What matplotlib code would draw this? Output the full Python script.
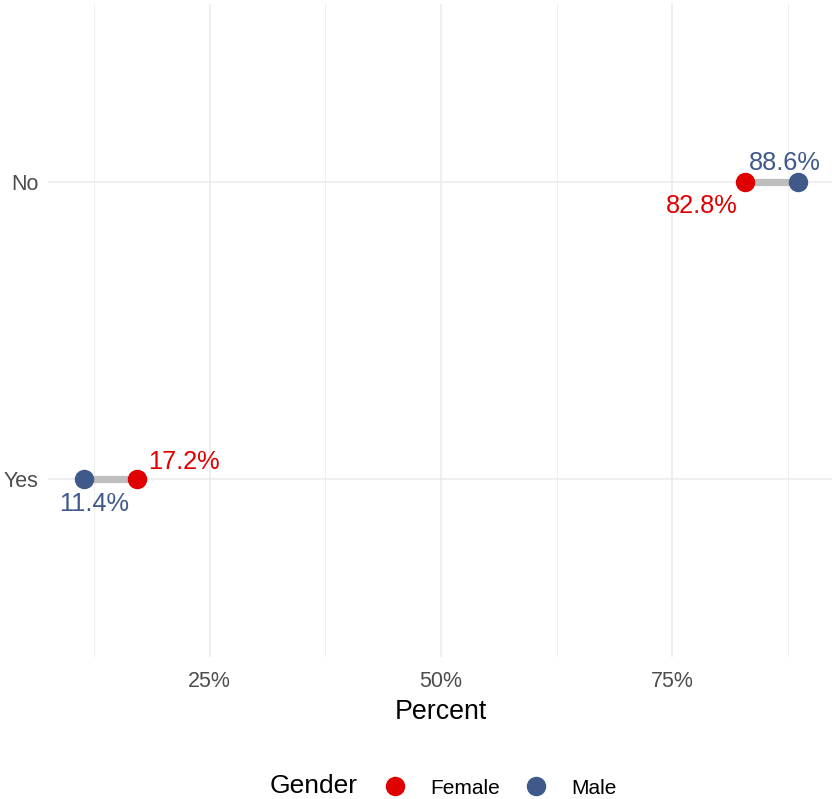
import matplotlib
matplotlib.use("Agg")
import matplotlib.pyplot as plt
from matplotlib.lines import Line2D
from matplotlib.ticker import FixedLocator, PercentFormatter

plt.rcParams['font.family'] = ['Liberation Sans', 'DejaVu Sans']

categories = ["Yes", "No"]
female = [17.2, 82.8]
male = [11.4, 88.6]
x_ticks = [25, 50, 75]
x_minor = [12.5, 37.5, 62.5, 87.5]

RED = "#E00000"
BLUE = "#3F5A8A"
SEG = "#BEBEBE"
PX = 72 / 100  # px -> pt

fig = plt.figure(figsize=(8.32, 7.99), dpi=100)
ax = fig.add_axes([48 / 832, 1 - 657 / 799, 786 / 832, (657 - 4) / 799])

ypos = list(range(len(categories)))
for y, f, m in zip(ypos, female, male):
    ax.plot([f, m], [y, y], color=SEG, lw=5.2, solid_capstyle='butt', zorder=2)
ax.plot(female, ypos, 'o', color=RED, ms=13, zorder=3, label="Female")
ax.plot(male, ypos, 'o', color=BLUE, ms=13, zorder=3, label="Male")

# labels: offsets in px (dx right, dy up)
offs_f = {0: (47, 17), 1: (-43, -24)}
offs_m = {0: (10, -25), 1: (-13, 19)}
for y, f, m in zip(ypos, female, male):
    dx, dy = offs_f[y]
    ax.annotate(f"{f:.1f}%", (f, y), xytext=(dx * PX, dy * PX), textcoords='offset points',
                ha='center', va='center', color=RED, fontsize=18.3)
    dx, dy = offs_m[y]
    ax.annotate(f"{m:.1f}%", (m, y), xytext=(dx * PX, dy * PX), textcoords='offset points',
                ha='center', va='center', color=BLUE, fontsize=18.3)

lo, hi = min(male + female), max(male + female)
pad = (hi - lo) * 0.05
ax.set_xlim(lo - pad, hi + pad)
ax.set_ylim(-0.6, len(categories) - 0.4)
ax.xaxis.set_major_locator(FixedLocator(x_ticks))
ax.xaxis.set_minor_locator(FixedLocator(x_minor))
ax.xaxis.set_major_formatter(PercentFormatter(decimals=0))
ax.set_yticks(ypos)
ax.set_yticklabels(categories)

ax.grid(which='major', color='#EBEBEB', lw=1.1)
ax.grid(which='minor', axis='x', color='#EBEBEB', lw=0.6)
ax.set_axisbelow(True)
for s in ax.spines.values():
    s.set_visible(False)
ax.tick_params(which='both', length=0, labelsize=15.5, labelcolor='#4D4D4D')
ax.tick_params(axis='x', pad=10)
ax.tick_params(axis='y', pad=7)
ax.set_xlabel("Percent", fontsize=19.3, color='black', labelpad=5)

fig.text(270 / 832, 1 - 786 / 799, "Gender", fontsize=19, va='center', ha='left')
handles = [Line2D([], [], ls='none', marker='o', color=RED, ms=13),
           Line2D([], [], ls='none', marker='o', color=BLUE, ms=13)]
fig.legend(handles, ["Female", "Male"], loc='center left',
           bbox_to_anchor=(385 / 832, 1 - 788 / 799), ncol=2, frameon=False,
           fontsize=15, handlelength=1.0, handletextpad=1.18, columnspacing=1.23,
           borderaxespad=0, borderpad=0)

fig.savefig("out.png", dpi=100)
